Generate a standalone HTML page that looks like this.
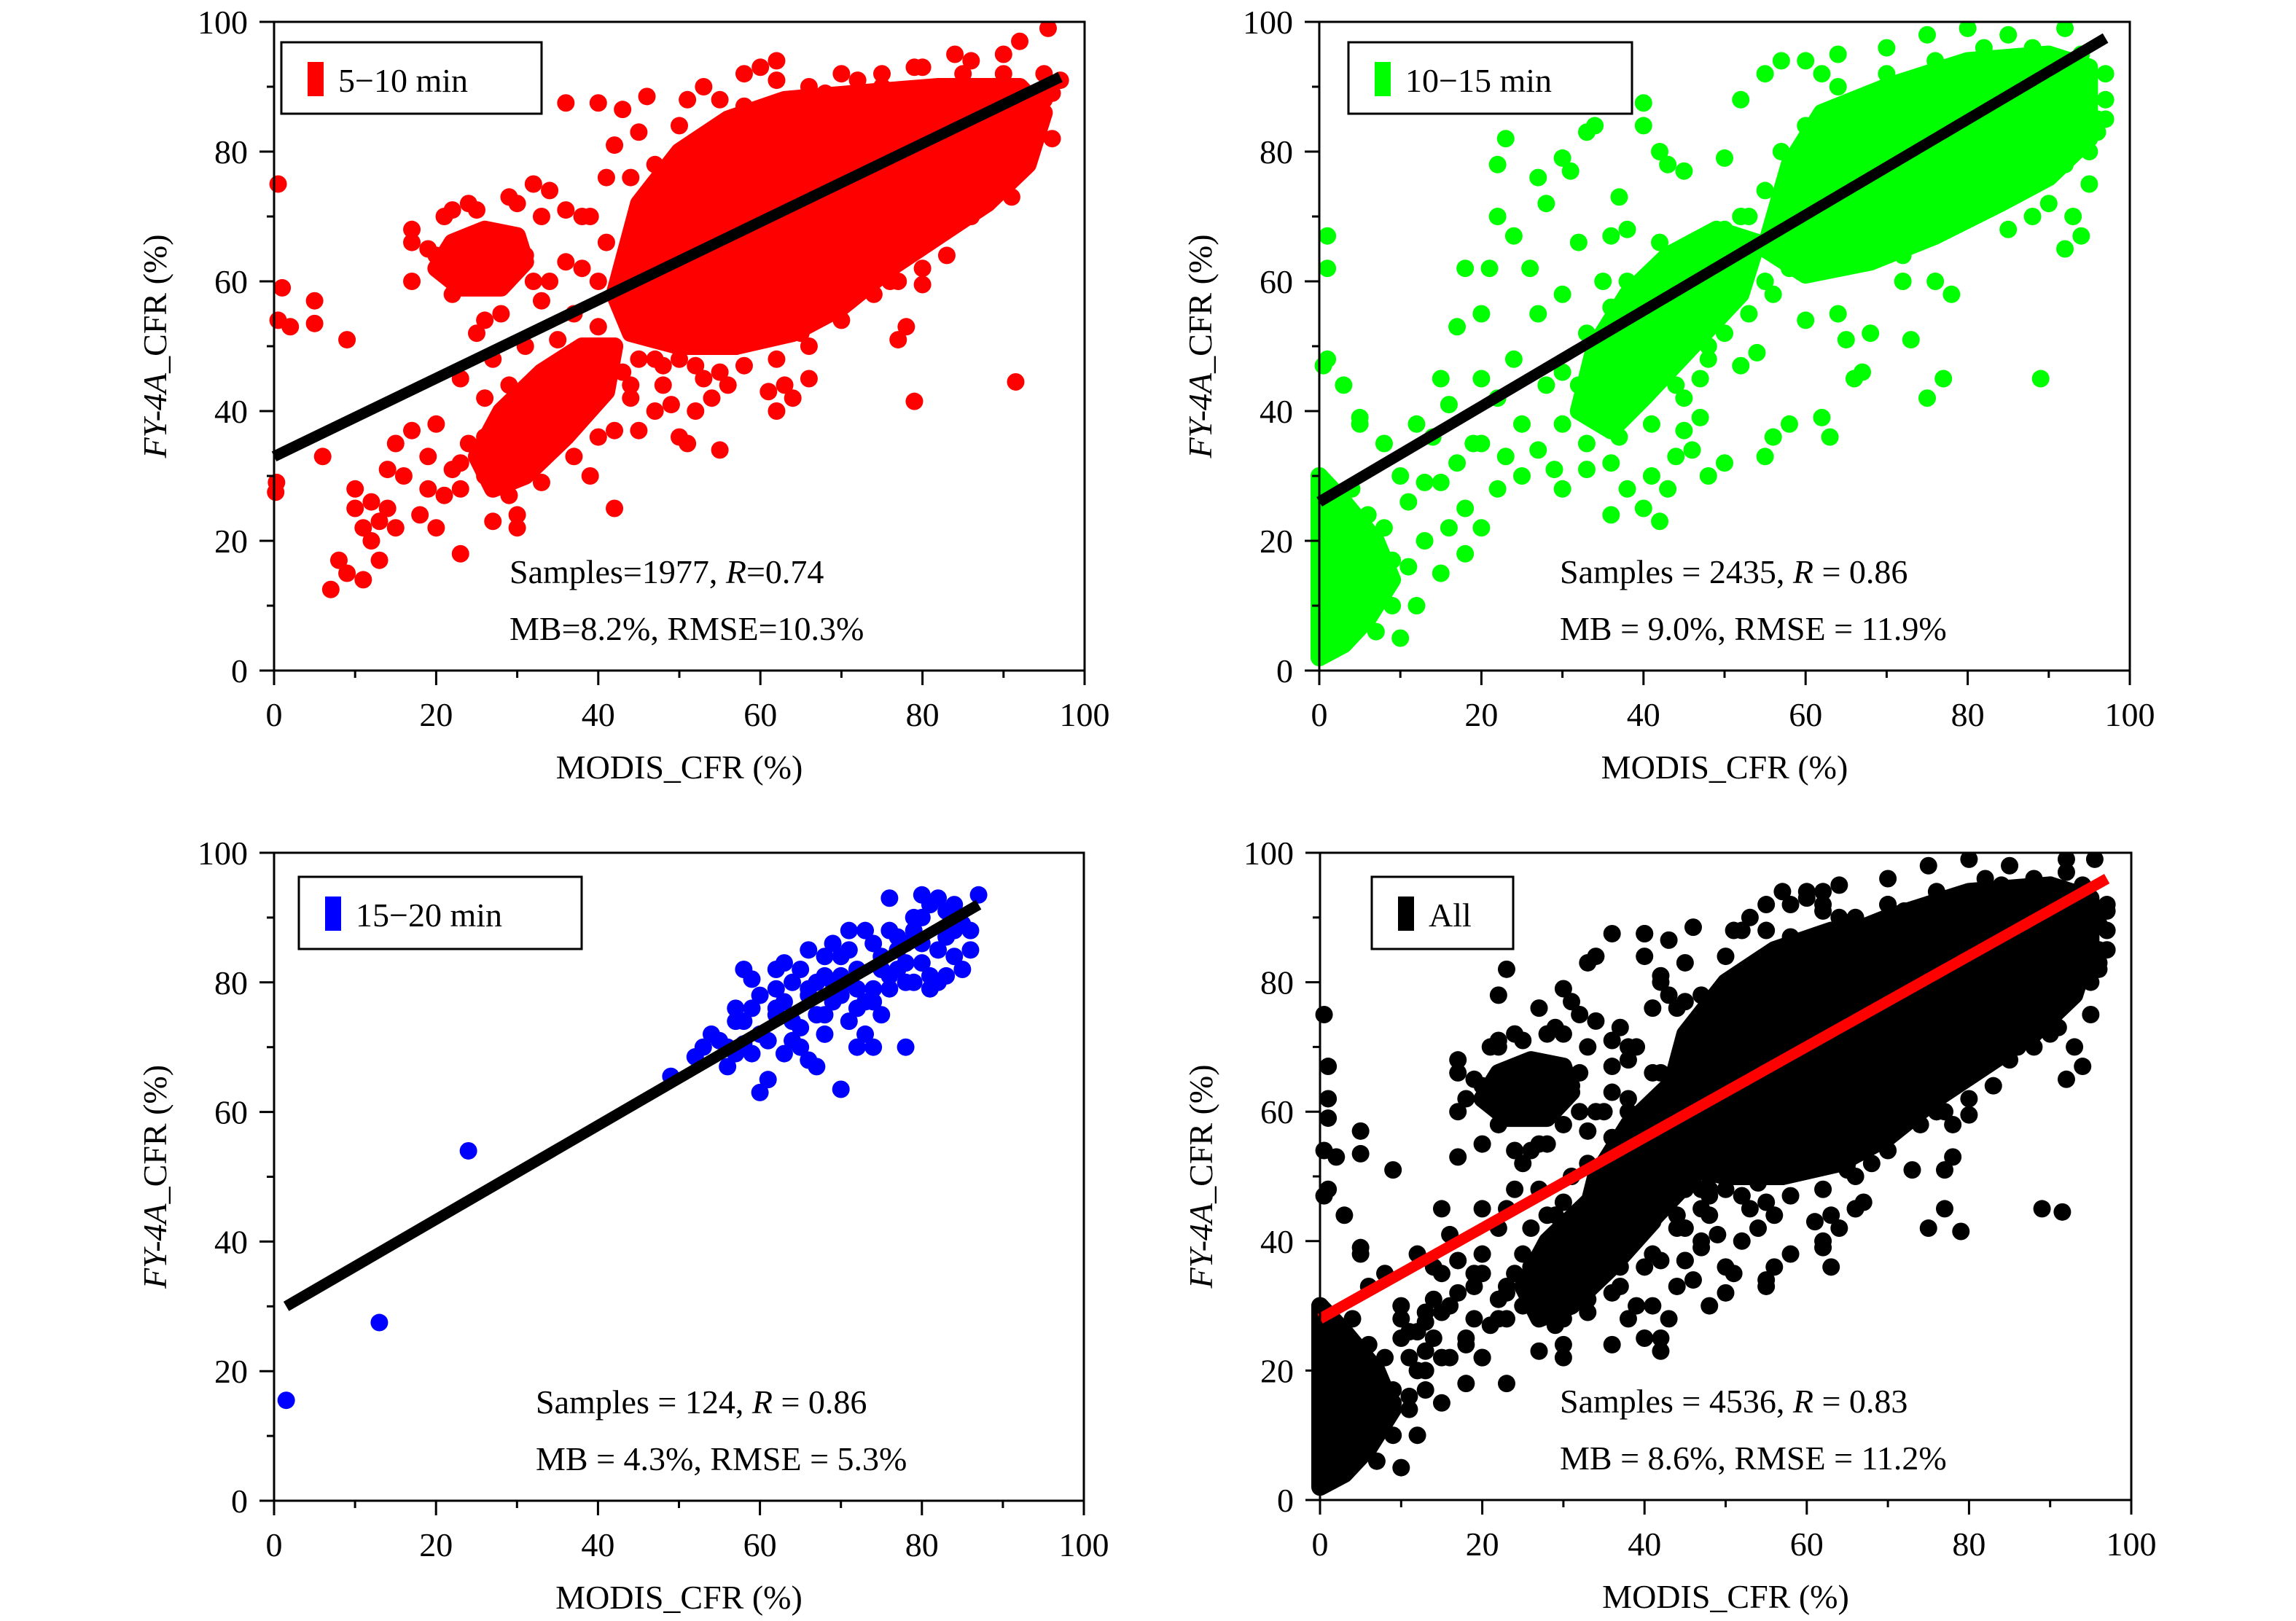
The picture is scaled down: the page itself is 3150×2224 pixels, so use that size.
<!DOCTYPE html>
<html><head><meta charset="utf-8"><style>
html,body{margin:0;padding:0;background:#fff;}
svg{display:block;font-family:"Liberation Serif",serif;}
</style></head><body>
<svg id="fig" width="3150" height="2224" viewBox="0 0 3150 2224" xmlns="http://www.w3.org/2000/svg"></svg>
<script>
// ---- data (MODIS_CFR %, FY-4A_CFR %) ----
const xTicks = [0,20,40,60,80,100];
const yTicks = [0,20,40,60,80,100];
const redPoints = [[0.5,75],[1,59],[0.5,54],[0.3,29],[0.2,27.5],[2,53],[5,57],[5,53.5],[6,33],[9,51],[7,12.5],[8,17],[9,15],[10,25],[10,28],[11,22],[11,14],[12,20],[12,26],[13,17],[13,23],[14,25],[15,22],[15,35],[16,30],[17,37],[17,60],[17,68],[17,66],[18,24],[19,33],[20,38],[20,22],[20,64],[21,70],[22,71],[23,18],[23,28],[24,72],[25,71],[26,42],[27,23],[28,55],[29,73],[30,22],[30,72],[30,24],[31,64],[32,75],[33,70],[34,74],[36,87.5],[36,71],[38,70],[39,30],[40,87.5],[41,76],[42,25],[42,81],[42,37],[43,86.5],[44,42],[45,37],[45,83],[46,88.5],[47,48],[47,40],[48,44],[49,41],[50,48],[50,36],[51,88],[51,35],[52,40],[53,90],[53,45],[54,42],[55,34],[56,44],[57,50],[58,92],[59,51],[60,93],[61,43],[62,94],[62,40],[63,44],[64,42],[65,52],[66,45],[65,88],[71,57],[72,91],[76,60],[77,60],[78,53],[77,51],[79,41.5],[80,59.5],[81,67],[83,69],[84,95],[85,74],[86,76],[88,72],[88,90],[90,83],[90,95],[91,76],[91.5,44.5],[92,86],[93,85],[93,81],[94,87],[95,92],[95.5,99],[96,89],[97,91],[92,97],[88,84],[86,94],[82,90],[79,93],[75,92],[68,89],[66,90],[35,45],[33,40],[37,55],[34,60],[36,63],[38,62],[26,30],[28,35],[32,38],[27,48],[25,52],[26,54],[23,45],[35,51],[24,35],[22,31],[21,27],[19,28],[14,31],[29,44],[31,50],[33,57],[38,47],[40,53],[40,60],[41,66],[39,70],[44,76],[47,78],[50,84],[55,88],[58,87],[62,91],[70,92],[75,90],[80,93],[85,92],[90,92],[94,84],[96,82],[95,88],[91,73],[86,70],[83,64],[80,62],[74,58],[70,54],[66,50],[62,48],[58,47],[55,46],[52,47],[48,47],[45,48],[42,50],[43,55],[24,63],[27,64],[22,58],[32,60],[19,65],[23,32],[26,36],[30,40],[34,43],[38,45],[43,46],[44,44],[40,36],[37,33],[33,29],[29,27],[28,31]];
const redCores = [
 [[42,58],[45,72],[50,80],[56,85],[63,88],[72,89],[82,90],[92,90],[95,86],[93,78],[88,72],[82,67],[76,62],[70,56],[64,52],[57,50],[50,50],[44,52]],
 [[20,62],[22,66],[26,68],[30,67],[31,63],[28,59],[23,59]],
 [[25,33],[28,40],[33,46],[38,50],[42,50],[41,43],[36,36],[31,30],[27,28]]
];
const greenPoints = [[1,67],[1,62],[1,48],[0.5,47],[3,44],[5,38],[5,39],[8,35],[10,30],[12,38],[14,36],[15,45],[16,41],[15,29],[17,53],[18,62],[20,55],[20,45],[21,62],[22,70],[22,78],[23,82],[24,67],[26,62],[27,76],[28,72],[30,79],[31,77],[32,66],[33,83],[34,84],[35,60],[36,67],[37,73],[38,68],[40,84],[40,87.5],[42,80],[43,78],[45,77],[45,50],[45,42],[47,45],[48,50],[50,63],[50,79],[52,88],[53,70],[43,28],[44,33],[41,30],[45,37],[46,34],[47,39],[48,30],[50,32],[52,47],[54,49],[55,33],[56,36],[58,38],[60,54],[62,39],[63,36],[64,55],[65,51],[66,45],[67,46],[68,52],[72,60],[72,64],[73,51],[75,42],[76,60],[77,45],[78,58],[89,45],[94,67],[93,70],[96,83],[95,75],[40,55],[38,48],[35,45],[32,40],[30,46],[33,52],[36,56],[27,34],[25,38],[25,30],[22,28],[20,22],[18,25],[18,18],[16,22],[15,15],[13,20],[12,10],[10,5],[8,12],[6,10],[4,17],[3,22],[2,26],[6,24],[7,19],[9,17],[11,26],[13,29],[20,35],[22,42],[24,48],[27,55],[30,58],[23,33],[17,32],[19,35],[28,44],[55,92],[57,94],[60,94],[62,92],[64,95],[70,96],[75,98],[80,99],[85,98],[92,99],[82,76],[85,68],[88,70],[90,72],[92,65],[96,85],[97,88],[40,25],[38,28],[36,24],[36,32],[42,23],[30,28],[29,31],[33,31],[38,60],[42,62],[46,65],[48,67],[58,75],[60,70],[64,72],[66,68],[70,70],[74,75],[76,72],[80,80],[45,60],[48,62],[52,64],[55,60],[58,62],[60,66],[62,68],[65,64],[68,66],[72,68],[75,70],[80,72],[85,74],[88,78],[92,78],[95,80],[97,85],[97,92],[94,95],[88,96],[82,96],[76,94],[70,92],[64,90],[60,84],[57,80],[55,74],[52,70],[50,68],[45,64],[42,66],[40,60],[38,54],[35,48],[32,44],[30,38],[33,35],[37,36],[41,38],[44,44],[48,48],[50,52],[53,55],[56,58],[1,5],[2,10],[1,15],[0,20],[1,25],[0,30],[3,8],[5,12],[7,6],[9,10],[11,16],[4,28],[8,22]];
const greenCores = [
 [[55,65],[58,78],[62,86],[70,90],[80,94],[90,95],[95,93],[95,82],[90,76],[84,72],[76,67],[68,63],[60,61]],
 [[32,40],[34,50],[38,58],[43,64],[49,68],[54,66],[52,58],[46,50],[40,42],[36,37]],
 [[0,2],[0,30],[3,26],[7,20],[9,14],[6,8],[3,4]]
];
const bluePoints = [[1.5,15.5],[13,27.5],[24,54],[49,65.5],[52,68.5],[53,70],[54,72],[55,71],[56,67],[57,74],[57,69],[58,70.5],[58,82],[59,80.5],[59,69],[60,63],[60,72],[61,65],[62,75],[62,79],[62,82],[63,83],[63,77],[64,80],[64,71],[65,73],[65,70],[66,78],[66,68],[66,79],[67,80],[67,75],[68,81],[68,72],[69,80],[69,77],[70,63.5],[70,81],[71,80],[71,74],[72,82],[72,70],[73,77],[73,72],[74,79],[74,70],[74,86],[75,82],[75,84],[76,88],[76,81],[77,85],[78,83],[78,80],[78,70],[79,90],[79,88],[80,83],[80,86],[81,92],[82,85],[82,80],[83,91],[84,84],[84,88],[85,89],[86,85],[87,93.5],[80,93.5],[81,81],[83,81],[68,84],[69,86],[70,78],[62,76],[64,74],[76,79],[71,85],[72,76],[75,75],[77,82],[61,71],[58,74],[57,76],[56,70],[63,69],[67,67],[74,77],[79,80],[81,79],[83,87],[85,82],[86,88],[84,92],[78,86],[73,88],[70,84],[66,85],[65,82],[60,78],[59,76],[76,93],[82,93],[80,90],[77,87],[71,88],[68,75],[72,79]];
const blueCores = [];
const fitRed = [[0,33],[97,91.5]];
const fitGreen = [[0,26],[97,97.5]];
const fitBlue = [[1.5,30],[87,92]];
const fitAll = [[0,28],[97,96]];

const NS = "http://www.w3.org/2000/svg";
const svg = document.getElementById('fig');
function mk(tag, attrs, parent){const e=document.createElementNS(NS,tag);for(const k in attrs)e.setAttribute(k,attrs[k]);(parent||svg).appendChild(e);return e;}

const panels = [
 {key:'5-10', x0:376,x1:1488,y0:30,y1:920, color:'#ff0000', fitColor:'#000', pts:[redPoints], cores:[redCores], fit:fitRed, leg:[386,58,357,98], legText:'5\u221210 min', s1:['Samples=1977, ','R','=0.74'], s2:'MB=8.2%, RMSE=10.3%', tx:699},
 {key:'10-15', x0:1810,x1:2922,y0:30,y1:920, color:'#00ff00', fitColor:'#000', pts:[greenPoints], cores:[greenCores], fit:fitGreen, leg:[1850,58,389,98], legText:'10\u221215 min', s1:['Samples = 2435, ','R',' = 0.86'], s2:'MB = 9.0%, RMSE = 11.9%', tx:2140},
 {key:'15-20', x0:376,x1:1487,y0:1170,y1:2059, color:'#0000ff', fitColor:'#000', pts:[bluePoints], cores:[blueCores], fit:fitBlue, leg:[410,1203,388,99], legText:'15\u221220 min', s1:['Samples = 124, ','R',' = 0.86'], s2:'MB = 4.3%, RMSE = 5.3%', tx:735},
 {key:'all', x0:1811,x1:2924,y0:1170,y1:2058, color:'#000000', fitColor:'#ff0000', pts:[redPoints,greenPoints,bluePoints], cores:[redCores,greenCores,blueCores], fit:fitAll, leg:[1882,1203,194,99], legText:'All', s1:['Samples = 4536, ','R',' = 0.83'], s2:'MB = 8.6%, RMSE = 11.2%', tx:2140}
];
const R = 12;

panels.forEach(p=>{
  const sx = v => p.x0 + (p.x1-p.x0)*v/100;
  const sy = v => p.y1 - (p.y1-p.y0)*v/100;
  const g = mk('g',{});
  
  
  const clipId='clip-'+p.key;
  const cp = mk('clipPath',{id:clipId},g);
  mk('rect',{x:p.x0-R,y:p.y0,width:p.x1-p.x0+2*R,height:p.y1-p.y0},cp);
  const marks = mk('g',{'clip-path':'url(#'+clipId+')'},g);
  
  
  p.cores.forEach(set=>set.forEach(poly=>{
    const e = mk('polygon',{points:poly.map(q=>sx(q[0])+','+sy(q[1])).join(' '),fill:p.color,stroke:p.color,'stroke-width':2*R,'stroke-linejoin':'round'},marks);
    
    
  }));
  p.pts.forEach(set=>set.forEach(q=>{
    const c = mk('circle',{cx:sx(q[0]),cy:sy(q[1]),r:R,fill:p.color},marks);
    
    
  }));
  const fl = mk('line',{x1:sx(p.fit[0][0]),y1:sy(p.fit[0][1]),x2:sx(p.fit[1][0]),y2:sy(p.fit[1][1]),stroke:p.fitColor,'stroke-width':15},g);
  
  
  const fr = mk('rect',{x:p.x0,y:p.y0,width:p.x1-p.x0,height:p.y1-p.y0,fill:'none',stroke:'#000','stroke-width':3},g);
  
  
  for(let v=0; v<=100; v+=10){
    const major = v%20===0, L = major?20:10;
    mk('line',{x1:sx(v),y1:p.y1,x2:sx(v),y2:p.y1+L,stroke:'#000','stroke-width':3},g);
    mk('line',{x1:p.x0,y1:sy(v),x2:p.x0-L,y2:sy(v),stroke:'#000','stroke-width':3},g);
  }
  xTicks.forEach(v=>{
    const t = mk('text',{x:sx(v),y:p.y1+76,'font-size':46,'text-anchor':'middle'},g);
    t.textContent = v;
    
    
  });
  yTicks.forEach(v=>{
    const t = mk('text',{x:p.x0-36,y:sy(v)+16,'font-size':46,'text-anchor':'end'},g);
    t.textContent = v;
    
    
  });
  const xt = mk('text',{x:(p.x0+p.x1)/2,y:p.y1+148,'font-size':46,'text-anchor':'middle'},g);
  xt.textContent = 'MODIS_CFR (%)';
  
  
  const cy = (p.y0+p.y1)/2, cx = p.x0-148;
  const yt = mk('text',{x:cx,y:cy,'font-size':46,'text-anchor':'middle',transform:'rotate(-90 '+cx+' '+cy+')'},g);
  
  
  const it = mk('tspan',{'font-style':'italic'},yt); it.textContent='FY-4A';
  const nt = mk('tspan',{},yt); nt.textContent='_CFR (%)';
  const lg = mk('g',{},g);
  
  
  mk('rect',{x:p.leg[0],y:p.leg[1],width:p.leg[2],height:p.leg[3],fill:'#fff',stroke:'#000','stroke-width':3},lg);
  mk('rect',{x:p.leg[0]+36,y:p.leg[1]+27,width:22,height:47,fill:p.color},lg);
  const ltx = mk('text',{x:p.leg[0]+78,y:p.leg[1]+68,'font-size':46},lg);
  ltx.textContent = p.legText;
  const s1 = mk('text',{x:p.tx,y:p.y1-120,'font-size':46},g);
  
  
  const a=mk('tspan',{},s1); a.textContent=p.s1[0];
  const b=mk('tspan',{'font-style':'italic'},s1); b.textContent=p.s1[1];
  const c=mk('tspan',{},s1); c.textContent=p.s1[2];
  const s2 = mk('text',{x:p.tx,y:p.y1-42,'font-size':46},g);
  s2.textContent = p.s2;
  
  
});
</script>
</body></html>
